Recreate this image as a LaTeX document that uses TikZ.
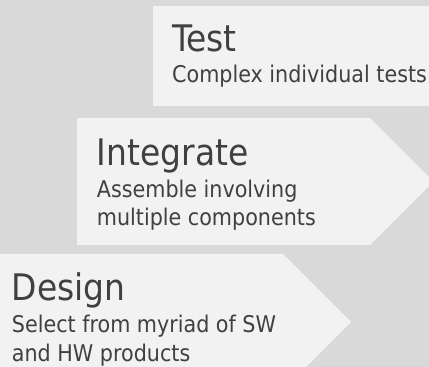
\documentclass[tikz,border=0pt]{standalone}
\usepackage{fontspec}
\setmainfont{DejaVu Sans Condensed}
\definecolor{bg}{HTML}{D9D9D9}
\definecolor{boxfill}{HTML}{F2F2F2}
\definecolor{txt}{HTML}{404040}
\begin{document}
\begin{tikzpicture}[x=1pt,y=1pt,
  titletext/.style={anchor=base west,inner sep=0pt,text=txt,font=\fontsize{36.6}{40}\selectfont},
  subtext/.style={anchor=base west,inner sep=0pt,text=txt,font=\fontsize{23}{28}\selectfont},
  stepshape/.style={fill=boxfill,draw=none}]
\useasboundingbox (0,0) rectangle (429,367);
\clip (0,0) rectangle (429,367);
\fill[bg] (0,0) rectangle (429,367);
% shapes
\path[stepshape] (153,361) -- (440,361) -- (440,261) -- (153,261) -- cycle;
\path[stepshape] (77,249) -- (370,249) -- (433.5,185.5) -- (370,122) -- (77,122) -- cycle;
\path[stepshape] (0,113) -- (283,113) -- (351,45) -- (283,-23) -- (0,-23) -- cycle;
% texts
\node[titletext] (t1) at (172,315.3) {Test};
\node[subtext] (s1) at (172,284) {Complex individual tests};
\node[titletext] (t2) at (96.7,201.3) {Integrate};
\node[subtext] (s2a) at (96.7,169.3) {Assemble involving};
\node[subtext] (s2b) at (96.7,141.3) {multiple components};
\node[titletext] (t3) at (11.7,66) {Design};
\node[subtext] (s3a) at (11.7,34) {Select from myriad of SW};
\node[subtext] (s3b) at (11.7,5.3) {and HW products};
\end{tikzpicture}
\end{document}
